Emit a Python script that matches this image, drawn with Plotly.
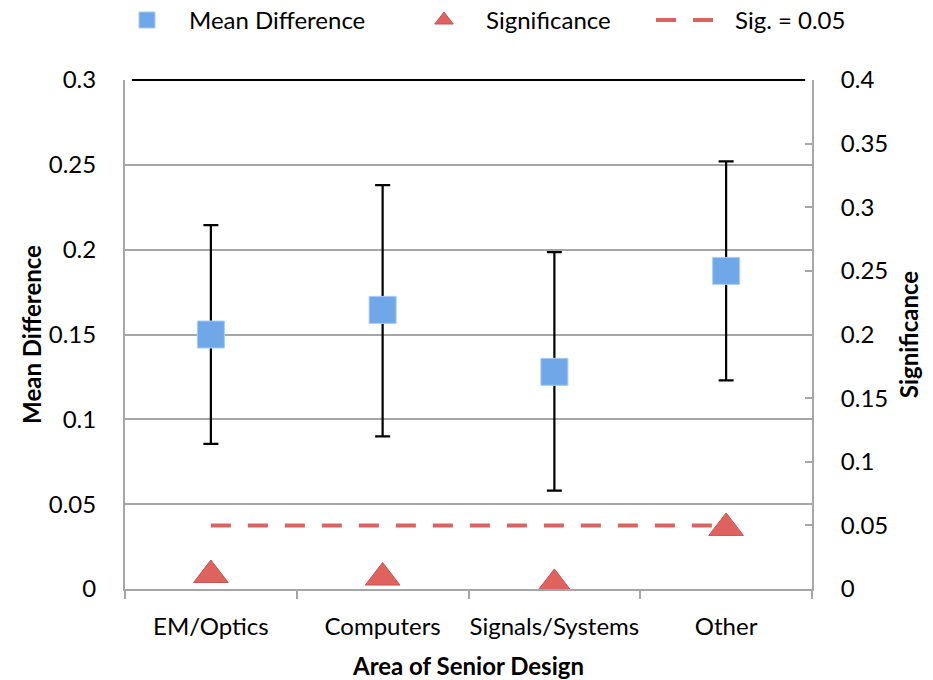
import plotly.graph_objects as go

categories = ["EM/Optics", "Computers", "Signals/Systems", "Other"]
mean_diff = [0.150, 0.1645, 0.128, 0.1875]
ci_upper = [0.2145, 0.238, 0.1985, 0.252]
ci_lower = [0.0855, 0.090, 0.058, 0.123]
significance = [0.011, 0.009, 0.004, 0.048]
sig_threshold = [0.05, 0.05, 0.05, 0.05]

err_plus = [u - m for u, m in zip(ci_upper, mean_diff)]
err_minus = [m - l for m, l in zip(mean_diff, ci_lower)]

FONT = "Lato"
GRID = "#a6a6a6"
FS = 24

fig = go.Figure()

fig.add_trace(go.Scatter(
    x=categories, y=mean_diff, name="Mean Difference", mode="markers", legend="legend",
    marker=dict(symbol="square", size=27, color="#6fa7e8",
                line=dict(color="#a9ccf5", width=1)),
    error_y=dict(type="data", symmetric=False, array=err_plus, arrayminus=err_minus,
                 color="black", thickness=2.2, width=7.5),
))

fig.add_trace(go.Scatter(
    x=categories, y=significance, name="Significance", yaxis="y2", mode="markers",
    legend="legend2",
    marker=dict(symbol="triangle-up", size=30, color="#e0625e",
                line=dict(color="#c85450", width=1)),
))

fig.add_trace(go.Scatter(
    x=categories, y=sig_threshold, name="Sig. = 0.05", yaxis="y2", legend="legend3",
    mode="lines", line=dict(color="#d9645f", width=4, dash="20px,17px"),
))

def leg(xpix):
    return dict(orientation="h", x=xpix / 933, xanchor="left", y=0.97, yanchor="middle",
                xref="container", yref="container", font=dict(size=FS),
                itemwidth=74, bgcolor="rgba(0,0,0,0)")

fig.update_layout(
    width=933, height=680,
    margin=dict(l=125, r=121, t=80, b=91),
    paper_bgcolor="white", plot_bgcolor="white",
    font=dict(family=FONT, size=FS, color="black"),
    showlegend=True,
    legend=leg(105), legend2=leg(402), legend3=leg(651),
    xaxis=dict(
        type="category", range=[-0.5, 3.5], tickangle=0, automargin=False,
        showline=True, linecolor=GRID, linewidth=2,
        ticks="outside", tickson="boundaries", ticklen=8, tickcolor=GRID, tickwidth=2,
        showgrid=False, ticklabelstandoff=15,
        title=dict(text="<b>Area of Senior Design</b>", font=dict(size=FS), standoff=20),
    ),
    yaxis=dict(
        range=[0, 0.3], dtick=0.05, tick0=0, automargin=False,
        showline=True, linecolor=GRID, linewidth=2,
        ticks="inside", ticklen=5, tickcolor=GRID, tickwidth=2,
        showgrid=True, gridcolor=GRID, gridwidth=2,
        zeroline=False, ticklabelstandoff=22,
        title=dict(text="<b>Mean Difference</b>", font=dict(size=FS), standoff=0),
    ),
    yaxis2=dict(
        range=[0, 0.4], dtick=0.05, tick0=0, overlaying="y", side="right", automargin=False,
        showline=True, linecolor=GRID, linewidth=2,
        ticks="inside", ticklen=7, tickcolor=GRID, tickwidth=2,
        showgrid=False, zeroline=False, ticklabelstandoff=22,
        title=dict(text="<b>Significance</b>", font=dict(size=FS), standoff=14),
    ),
    shapes=[dict(type="line", xref="paper", yref="paper", x0=0.01, x1=0.99, y0=1, y1=1,
                 line=dict(color="black", width=2))],
)

fig.write_html("out.html")
